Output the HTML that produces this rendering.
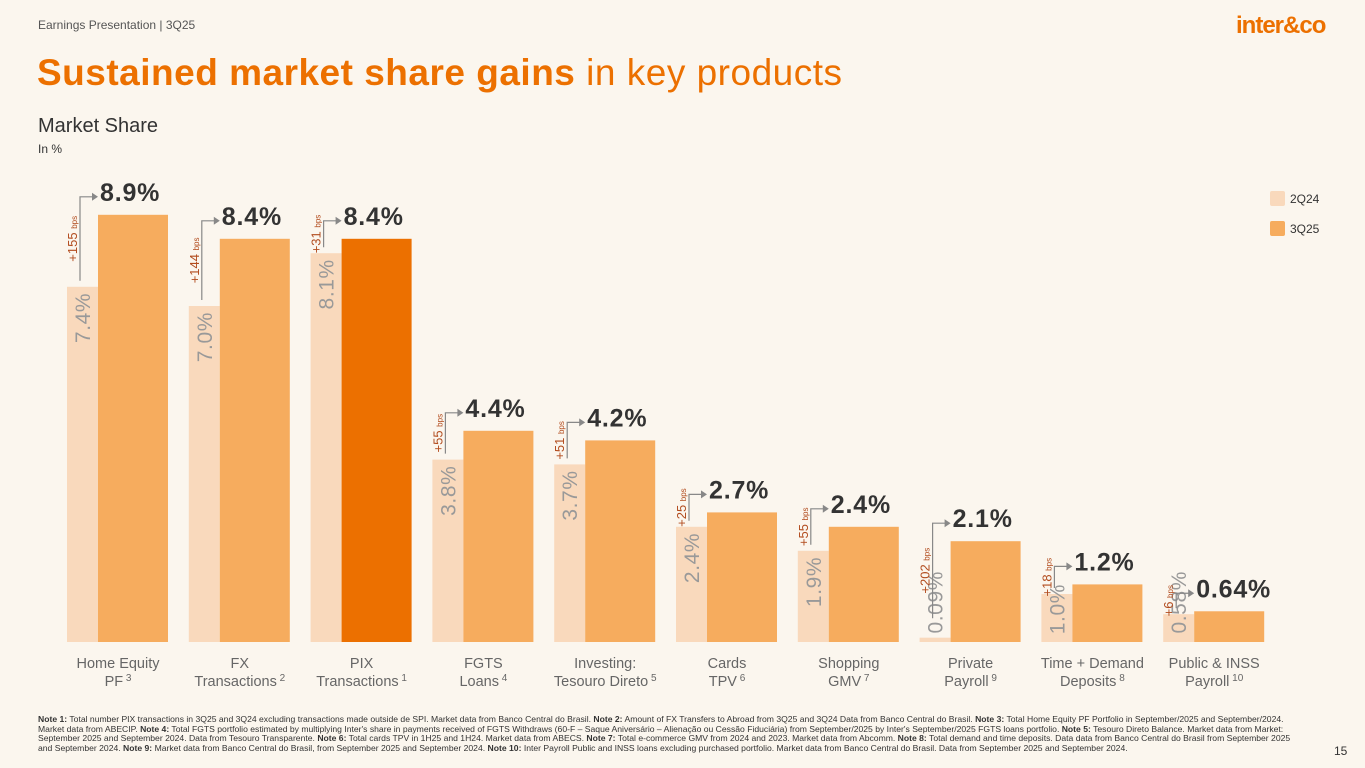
<!DOCTYPE html>
<html><head><meta charset="utf-8"><style>
body{margin:0;width:1365px;height:768px;background:#FBF6EE;font-family:"Liberation Sans",sans-serif;overflow:hidden;position:relative}
.a{position:absolute}
</style></head><body>
<div class="a" style="left:38px;top:18px;font-size:12px;color:#555">Earnings Presentation | 3Q25</div>
<div class="a" style="left:1236px;top:12px;font-size:24px;font-weight:bold;color:#EC7000;letter-spacing:-1px">inter&amp;co</div>
<div class="a" style="left:37px;top:52px;font-size:37px;color:#EC7000;letter-spacing:0.5px"><b>Sustained market share gains</b> in key products</div>
<div class="a" style="left:38px;top:115px;font-size:20px;color:#333">Market Share</div>
<div class="a" style="left:38px;top:142px;font-size:12px;color:#333">In %</div>
<svg class="a" style="left:0;top:0" width="1365" height="700" id="chart">
<rect x="1270" y="191" width="15" height="15" rx="2" fill="#F9D9BC"/>
<text x="1290" y="203" font-size="12" fill="#333">2Q24</text>
<rect x="1270" y="221" width="15" height="15" rx="2" fill="#F6AC5E"/>
<text x="1290" y="233" font-size="12" fill="#333">3Q25</text>
</svg>
<div class="a" style="left:38px;top:715px;width:1262px;font-size:8.6px;line-height:9.6px;color:#333"><b>Note 1:</b> Total number PIX transactions in 3Q25 and 3Q24 excluding transactions made outside de SPI. Market data from Banco Central do Brasil. <b>Note 2:</b> Amount of FX Transfers to Abroad from 3Q25 and 3Q24 Data from Banco Central do Brasil. <b>Note 3:</b> Total Home Equity PF Portfolio in September/2025 and September/2024. Market data from ABECIP. <b>Note 4:</b> Total FGTS portfolio estimated by multiplying Inter's share in payments received of FGTS Withdraws (60-F – Saque Aniversário – Alienação ou Cessão Fiduciária) from September/2025 by Inter's September/2025 FGTS loans portfolio. <b>Note 5:</b> Tesouro Direto Balance. Market data from Market: September 2025 and September 2024. Data from Tesouro Transparente. <b>Note 6:</b> Total cards TPV in 1H25 and 1H24. Market data from ABECS. <b>Note 7:</b> Total e-commerce GMV from 2024 and 2023. Market data from Abcomm. <b>Note 8:</b> Total demand and time deposits. Data data from Banco Central do Brasil from September 2025 and September 2024. <b>Note 9:</b> Market data from Banco Central do Brasil, from September 2025 and September 2024. <b>Note 10:</b> Inter Payroll Public and INSS loans excluding purchased portfolio. Market data from Banco Central do Brasil. Data from September 2025 and September 2024.</div>
<div class="a" style="left:1334px;top:744px;font-size:12px;color:#333">15</div>
<script>
const categories=[["Home Equity","PF","3"],["FX","Transactions","2"],["PIX","Transactions","1"],["FGTS","Loans","4"],["Investing:","Tesouro Direto","5"],["Cards","TPV","6"],["Shopping","GMV","7"],["Private","Payroll","9"],["Time + Demand","Deposits","8"],["Public & INSS","Payroll","10"]];
const prevValues=[7.4,7.0,8.1,3.8,3.7,2.4,1.9,0.09,1.0,0.58];
const prevLabels=["7.4%","7.0%","8.1%","3.8%","3.7%","2.4%","1.9%","0.09%","1.0%","0.58%"];
const currValues=[8.9,8.4,8.4,4.4,4.2,2.7,2.4,2.1,1.2,0.64];
const currLabels=["8.9%","8.4%","8.4%","4.4%","4.2%","2.7%","2.4%","2.1%","1.2%","0.64%"];
const bpsValues=[155,144,31,55,51,25,55,202,18,6];
const svg=document.getElementById('chart');
const NS='http://www.w3.org/2000/svg';
const base=642, scale=48;
const y=v=>base-v*scale;
const gx=i=>67+i*121.8;
function mk(tag,attrs,parent){const e=document.createElementNS(NS,tag);for(const k in attrs)e.setAttribute(k,attrs[k]);(parent||svg).appendChild(e);return e;}
categories.forEach((c,i)=>{
  const x=gx(i);
  const lt=y(prevValues[i]), dt=y(currValues[i]);
  const r1=mk('rect',{x:x,y:lt,width:31,height:base-lt,fill:'#F9D9BC'});
  
  
  const r2=mk('rect',{x:x+31,y:dt,width:70,height:base-dt,fill:i==2?'#EC7000':'#F6AC5E'});
  
  
  const t=mk('text',{x:x+33,y:dt-14,'font-size':25,'font-weight':'bold',fill:'#333','letter-spacing':0.8});
  t.textContent=currLabels[i];
  
  
  const len=prevLabels[i].length*13;
  const endY=Math.min(lt+6,base-6-len);
  const pt=mk('text',{x:0,y:0,'font-size':21,fill:'#999','text-anchor':'end','letter-spacing':0.6,transform:`translate(${x+23},${endY}) rotate(-90)`});
  pt.textContent=prevLabels[i];
  
  
  const ay=dt-18, lx=x+13;
  const bot=Math.min(lt-6,ay+95);
  const p=mk('path',{d:`M${lx},${bot} V${ay} H${x+26}`,stroke:'#888',fill:'none','stroke-width':1.2});
  
  
  mk('path',{d:`M${x+25},${ay-4} L${x+31},${ay} L${x+25},${ay+4}Z`,fill:'#888'});
  const bt=mk('text',{x:0,y:0,'font-size':13,fill:'#B24C1E','text-anchor':'middle',transform:`translate(${lx-3},${(ay+bot)/2}) rotate(-90)`});
  bt.innerHTML='+'+bpsValues[i]+' <tspan font-size="8">bps</tspan>';
  
  
  const cx=x+51;
  const c1=mk('text',{x:cx,y:668,'font-size':14.5,fill:'#666','text-anchor':'middle'});
  c1.textContent=c[0];
  
  
  const c2=mk('text',{x:cx,y:686,'font-size':14.5,fill:'#666','text-anchor':'middle'});
  c2.innerHTML=c[1]+'<tspan font-size="10" dy="-5"> '+c[2]+'</tspan>';
});
</script>
</body></html>
